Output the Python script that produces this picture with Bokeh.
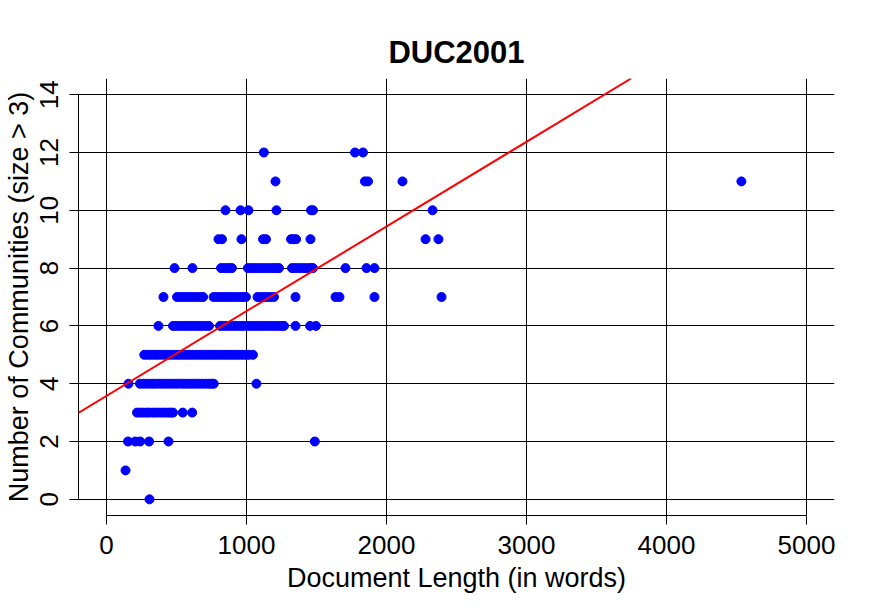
import math
from bokeh.plotting import figure
from bokeh.models import Range1d, FixedTicker, Slope, ColumnDataSource
from bokeh.embed import file_html
from bokeh.resources import INLINE

# ---- data ----
title_text = "DUC2001"
x_label = "Document Length (in words)"
y_label = "Number of Communities (size > 3)"

x_ticks = [0, 1000, 2000, 3000, 4000, 5000]
y_ticks = [0, 2, 4, 6, 8, 10, 12, 14]

community_counts = [0, 1, 2, 3, 4, 5, 6, 7, 8, 9, 10, 11, 12]

len_0 = [307]
len_1 = [136]
len_2 = [154, 205, 240, 304, 443, 1488]
len_3 = [218, 240, 262, 285, 305, 330, 350, 372, 395, 415, 440, 458, 475, 545, 612]
len_4 = [157, 239, 262, 285, 310, 333, 356, 380, 404, 427, 450, 475, 498, 520, 545,
         568, 592, 615, 638, 662, 685, 708, 732, 750, 766, 1071]
len_5 = [270, 292, 315, 340, 362, 385, 410, 433, 455, 480, 503, 526, 550, 573, 596,
         620, 643, 667, 690, 713, 737, 760, 783, 807, 830, 853, 877, 900, 924, 947,
         970, 994, 1017, 1046]
len_6 = [371, 475, 498, 520, 545, 568, 592, 615, 640, 662, 685, 710, 732, 811, 835,
         858, 882, 905, 928, 952, 975, 1000, 1022, 1046, 1070, 1093, 1116, 1140, 1163,
         1187, 1210, 1234, 1255, 1268, 1350, 1454, 1496]
len_7 = [407, 504, 527, 550, 574, 597, 620, 644, 667, 690, 765, 788, 812, 835, 858,
         882, 905, 928, 952, 975, 996, 1079, 1100, 1122, 1146, 1170, 1196, 1350, 1636,
         1664, 1914, 2393]
len_8 = [486, 614, 818, 840, 862, 880, 896, 1010, 1033, 1056, 1080, 1103, 1126, 1150,
         1173, 1196, 1215, 1232, 1325, 1348, 1372, 1395, 1418, 1442, 1460, 1475, 1707,
         1857, 1914]
len_9 = [800, 825, 964, 1118, 1139, 1318, 1336, 1354, 1457, 2279, 2371]
len_10 = [850, 957, 1014, 1214, 1461, 1475, 2329]
len_11 = [1207, 1846, 1868, 2114, 4535]
len_12 = [1124, 1775, 1832]

# regression line
fit_intercept = 3.58
fit_slope = 0.00293

# ---- build table ----
rows = [len_0, len_1, len_2, len_3, len_4, len_5, len_6, len_7, len_8, len_9,
        len_10, len_11, len_12]
xs, ys = [], []
for c, lens in zip(community_counts, rows):
    xs.extend(lens)
    ys.extend([c] * len(lens))
src = ColumnDataSource(data=dict(x=xs, y=ys))

FONT = "Liberation Sans"

p = figure(width=866, height=606, output_backend="svg", toolbar_location=None,
           x_range=Range1d(-200, 5200), y_range=Range1d(-0.56, 14.56),
           min_border_left=78, min_border_right=32, min_border_top=78,
           min_border_bottom=91, title=title_text)
p.outline_line_color = None
p.background_fill_color = "white"
p.border_fill_color = "white"

p.title.align = "center"
p.title.text_font = FONT
p.title.text_font_style = "bold"
p.title.text_font_size = "31px"
p.title.text_color = "black"
p.title.standoff = 18

for ax, ticks, bnd in ((p.xaxis, x_ticks, (0, 5000)), (p.yaxis, y_ticks, (0, 14))):
    ax.ticker = FixedTicker(ticks=ticks)
    ax.bounds = bnd
    ax.major_tick_out = 9
    ax.major_tick_in = 0
    ax.minor_tick_out = 0
    ax.minor_tick_in = 0
    ax.axis_line_color = "black"
    ax.major_tick_line_color = "black"
    ax.major_label_text_font = FONT
    ax.major_label_text_font_size = "26px"
    ax.major_label_text_color = "black"
    ax.major_label_standoff = 11
    ax.axis_label_text_font = FONT
    ax.axis_label_text_font_size = "27px"
    ax.axis_label_text_font_style = "normal"
    ax.axis_label_text_color = "black"
p.xaxis.axis_label = x_label
p.yaxis.axis_label = y_label
p.xaxis.axis_label_standoff = 6
p.yaxis.axis_label_standoff = 4
p.yaxis.major_label_orientation = "vertical"

p.xgrid.ticker = FixedTicker(ticks=x_ticks)
p.ygrid.ticker = FixedTicker(ticks=y_ticks)
for g in (p.xgrid, p.ygrid):
    g.grid_line_color = "black"
    g.grid_line_alpha = 1.0
    g.grid_line_width = 1

p.scatter("x", "y", source=src, size=9, marker="circle",
          fill_color="blue", line_color="blue")

p.add_layout(Slope(gradient=fit_slope, y_intercept=fit_intercept,
                   line_color="red", line_width=2))

open("out.html", "w").write(file_html(p, INLINE))
